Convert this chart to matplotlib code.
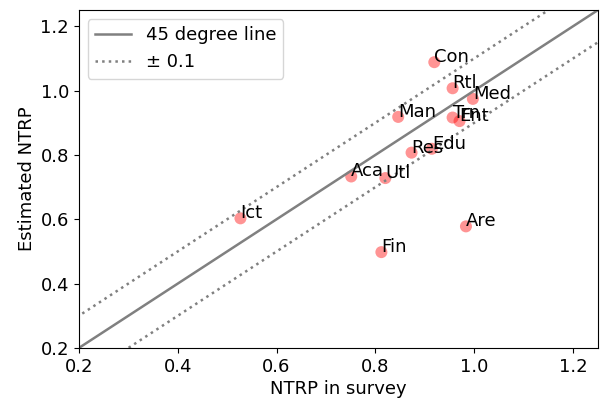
import matplotlib
matplotlib.use("Agg")
import matplotlib.pyplot as plt
import numpy as np

labels = ["Con", "Rtl", "Med", "Man", "Trn", "Ent", "Edu", "Res", "Aca", "Utl", "Ict", "Are", "Fin"]
survey = [0.919, 0.956, 0.997, 0.846, 0.956, 0.970, 0.914, 0.873, 0.751, 0.820, 0.527, 0.983, 0.812]
estimated = [1.088, 1.007, 0.974, 0.918, 0.916, 0.905, 0.819, 0.807, 0.733, 0.728, 0.603, 0.578, 0.498]

FS = 13


def main():
    fig, ax = plt.subplots(figsize=(6.01, 4.01), dpi=100)
    fig.subplots_adjust(left=0.131, right=0.995, top=0.975, bottom=0.132)

    line = np.array([0.0, 1.5])
    ax.plot(line, line, color="gray", lw=1.8, label="45 degree line")
    ax.plot(line, line + 0.1, color="gray", lw=1.8, linestyle=":", label="± 0.1")
    ax.plot(line, line - 0.1, color="gray", lw=1.8, linestyle=":")

    ax.scatter(survey, estimated, color="red", alpha=0.42, s=75, edgecolors="none")
    for lab, x, y in zip(labels, survey, estimated):
        ax.text(x, y, lab, fontsize=FS)

    ax.set_xlim(0.2, 1.25)
    ax.set_ylim(0.2, 1.25)
    ax.set_xlabel("NTRP in survey", fontsize=FS, labelpad=3)
    ax.set_ylabel("Estimated NTRP", fontsize=FS, labelpad=3)
    ax.tick_params("x", labelsize=FS)
    ax.tick_params("y", labelsize=FS)
    ax.legend(loc="upper left", fontsize=FS)

    fig.savefig("out.png")
    plt.close()


if __name__ == "__main__":
    main()
